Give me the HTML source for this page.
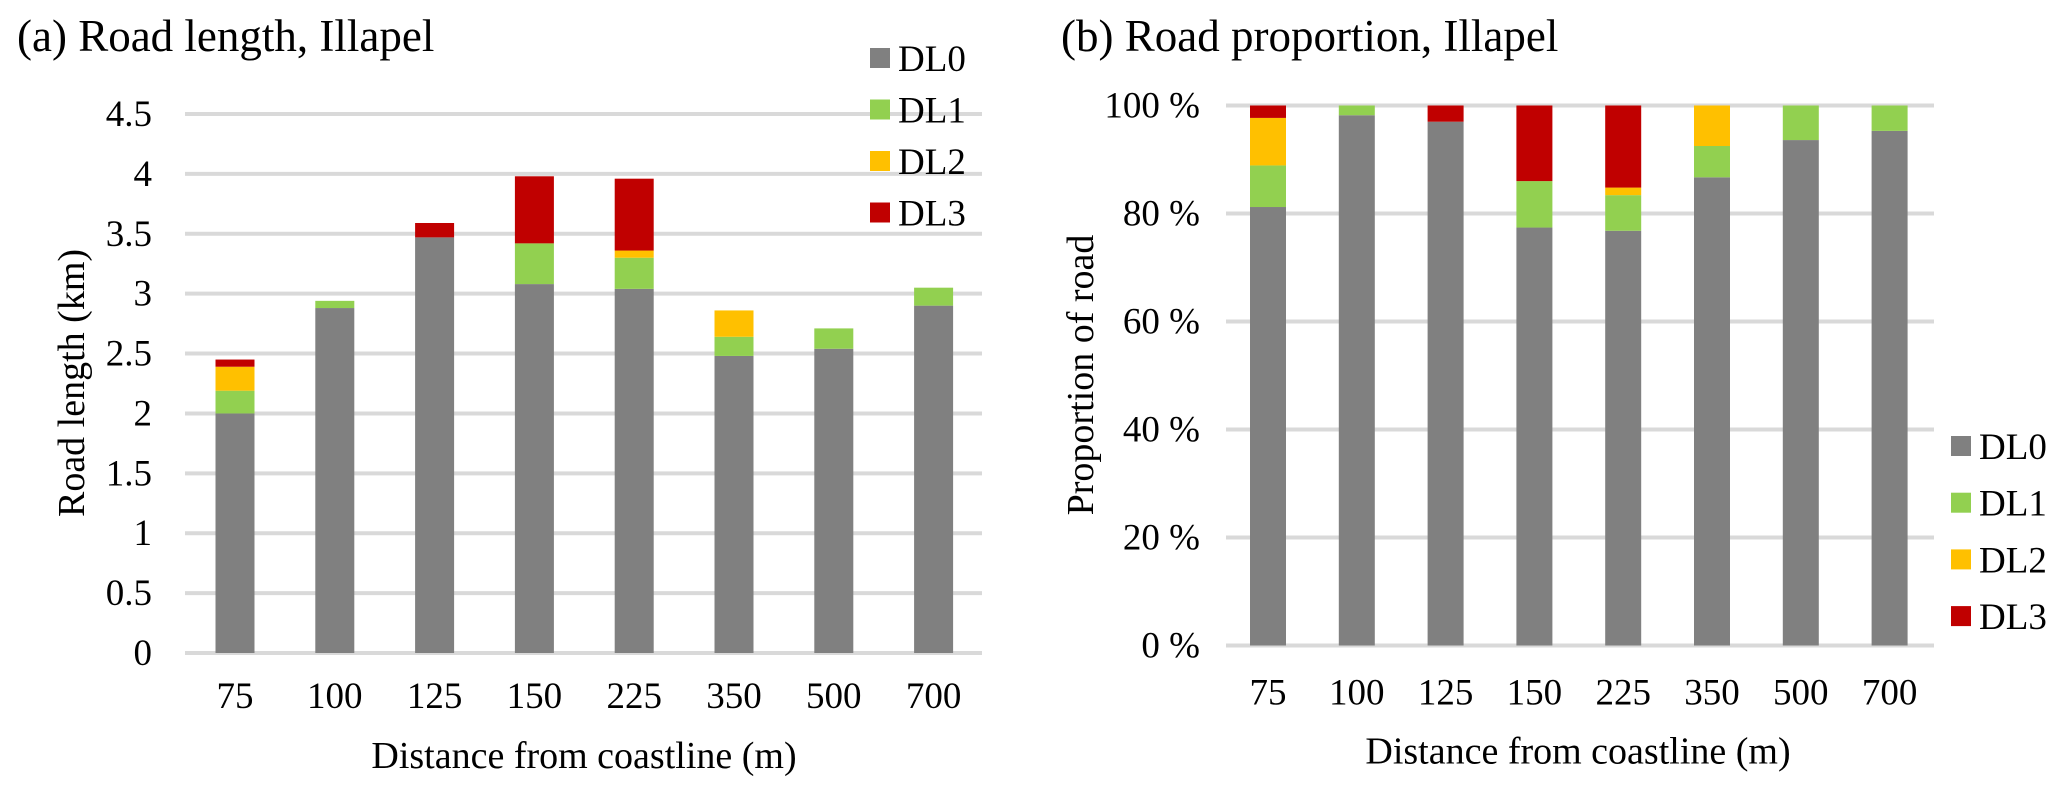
<!DOCTYPE html>
<html><head><meta charset="utf-8"><style>
body{margin:0;background:#fff;}
svg{display:block;font-family:"Liberation Serif",serif;}
</style></head><body>
<svg id="c" width="2067" height="795" viewBox="0 0 2067 795"></svg>
<script>
const categories=["75","100","125","150","225","350","500","700"];
const seriesNames=["DL0","DL1","DL2","DL3"];
const colors=["#808080","#92d050","#ffc000","#c00000"];
const lenDL0=[2.0,2.88,3.47,3.08,3.04,2.48,2.54,2.90];
const lenDL1=[0.19,0.06,0,0.34,0.26,0.16,0.17,0.15];
const lenDL2=[0.2,0,0,0,0.06,0.22,0,0];
const lenDL3=[0.06,0,0.12,0.56,0.60,0,0,0];
const propDL0=[81.2,98.2,97,77.4,76.8,86.7,93.6,95.3];
const propDL1=[7.7,1.8,0,8.6,6.6,5.8,6.4,4.7];
const propDL2=[8.8,0,0,0,1.4,7.5,0,0];
const propDL3=[2.3,0,3,14,15.2,0,0,0];
const leftTicks=["0","0.5","1","1.5","2","2.5","3","3.5","4","4.5"];
const rightTicks=["0 %","20 %","40 %","60 %","80 %","100 %"];

const NS="http://www.w3.org/2000/svg";
const svg=document.getElementById('c');
function mk(tag,attrs,parent,text){const e=document.createElementNS(NS,tag);for(const k in attrs)e.setAttribute(k,attrs[k]);if(text!==undefined)e.textContent=text;(parent||svg).appendChild(e);return e;}

function chart(o){
  const g=mk('g',{});
  
  
  const y=v=>o.y0-(v/o.max)*(o.y0-o.y1);
  const x=i=>o.x0c+i*o.step;
  o.ticks.forEach((t,i)=>{
    const v=o.max*i/(o.ticks.length-1);
    const l=mk('line',{x1:o.gl,x2:o.gr,y1:y(v),y2:y(v),stroke:'#d9d9d9','stroke-width':4},g);
    
    
    const tx=mk('text',{x:o.tickX,y:y(v)+12,'text-anchor':'end','font-size':37},g,t);
    
    
  });
  categories.forEach((c,i)=>{
    let acc=0;
    o.series.forEach((s,k)=>{
      const v=s[i];
      if(v>0){
        const r=mk('rect',{x:x(i)-o.bw/2,width:o.bw,y:y(acc+v),height:y(acc)-y(acc+v),fill:colors[k]},g);
        
        
      }
      acc+=v;
    });
    const t=mk('text',{x:x(i),y:o.y0+o.xtOff,'text-anchor':'middle','font-size':37},g,c);
    
    
  });
  const tt=mk('text',{x:o.titleX,y:51,'font-size':45},g,o.title);
  
  
  const xl=mk('text',{x:o.xlX,y:o.y0+o.xlOff,'text-anchor':'middle','font-size':38},g,'Distance from coastline (m)');
  
  
  const yl=mk('text',{x:0,y:0,'text-anchor':'middle','font-size':38,transform:`translate(${o.ylX},${o.ylY}) rotate(-90)`},g,o.ylab);
  
  
  seriesNames.forEach((n,k)=>{
    const ly=o.legY+k*o.legStep;
    const r=mk('rect',{x:o.legX,y:ly-10,width:20,height:20,fill:colors[k]},g);
    
    
    const t=mk('text',{x:o.legX+28,y:ly+13,'font-size':37},g,n);
    
    
  });
}
chart({name:'road-length-chart',series:[lenDL0,lenDL1,lenDL2,lenDL3],max:4.5,ticks:leftTicks,
  y0:653,y1:114,x0c:235,step:99.8,bw:39,gl:185,gr:982,tickX:152,xtOff:55,xlOff:115,
  title:'(a) Road length, Illapel',titleX:17,
  xlX:584,ylab:'Road length (km)',ylX:84,ylY:383,legX:870,legY:58,legStep:51.5});
chart({name:'road-proportion-chart',series:[propDL0,propDL1,propDL2,propDL3],max:100,ticks:rightTicks,
  y0:645.5,y1:105.5,x0c:1268,step:88.8,bw:36,gl:1226,gr:1934,tickX:1200,xtOff:59,xlOff:118,
  title:'(b) Road proportion, Illapel',titleX:1061,
  xlX:1578,ylab:'Proportion of road',ylX:1093,ylY:375,legX:1951,legY:446,legStep:56.7});
</script>
</body></html>
